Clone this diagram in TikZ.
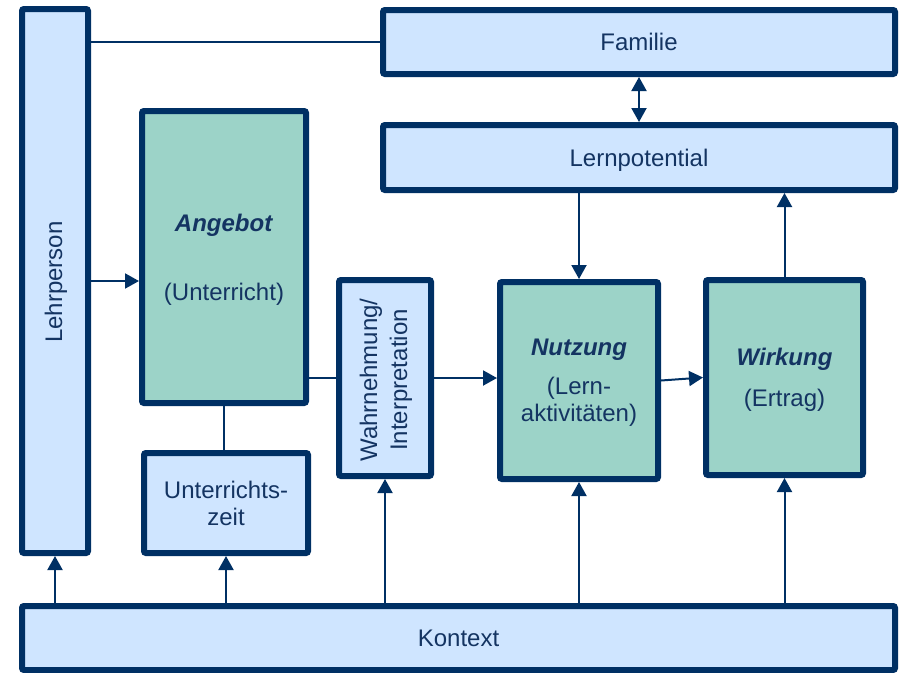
\documentclass[tikz,border=0pt]{standalone}
\usepackage{fontspec}
\setmainfont{Liberation Sans}
\usetikzlibrary{arrows.meta,calc}
\definecolor{navy}{RGB}{0,48,100}
\definecolor{txt}{RGB}{20,52,98}
\definecolor{lblue}{RGB}{207,229,255}
\definecolor{teal}{RGB}{156,211,200}
\begin{document}
\begin{tikzpicture}[x=1pt,y=-1pt,
  every node/.style={font=\fontsize{24}{27}\selectfont, text=txt, inner sep=0pt},
  box/.style={draw=navy, line width=6pt, fill=lblue, rounded corners=2pt, align=center},
  gbox/.style={box, fill=teal, text depth=0pt},
  conn/.style={draw=navy, line width=2pt},
  arr/.style={conn, -{Triangle[length=14pt,width=15pt]}},
  darr/.style={conn, {Triangle[length=14pt,width=15pt]}-{Triangle[length=14pt,width=15pt]}}
]
\useasboundingbox (0,0) rectangle (904,672);

% boxes (outer sizes minus line width)
\node[box, minimum width=66pt, minimum height=544pt] (lehr) at (55,281) {};
\node[rotate=90] (lehrtext) at (56,282) {Lehrperson};

\node[box, minimum width=512pt, minimum height=64pt] (familie) at (639,42) {Familie};
\node[box, text depth=0pt, minimum width=512pt, minimum height=65pt] (lernpot) at (639,157.5) {Lernpotential};

\node[gbox, minimum width=164pt, minimum height=292pt] (angebot) at (224,257)
  {\textbf{\textit{Angebot}}\\[42pt](Unterricht)};

\node[box, minimum width=164pt, minimum height=100pt] (uzeit) at (226,503)
  {Unterrichts-\\zeit};

\node[box, minimum width=92pt, minimum height=196pt] (wahr) at (385,378) {};
\node[rotate=90, align=center, font=\fontsize{24}{30}\selectfont] (wahrtext) at (386,380)
  {Wahrnehmung/\\Interpretation};

\node[gbox, minimum width=158pt, minimum height=197pt] (nutzung) at (579,380.5)
  {\textbf{\textit{Nutzung}}\\[12pt](Lern-\\aktivitäten)};

\node[gbox, minimum width=157pt, minimum height=195pt] (wirkung) at (784.5,377.5)
  {\textbf{\textit{Wirkung}}\\[14pt](Ertrag)};

\node[box, text depth=0pt, minimum width=873pt, minimum height=64pt] (kontext) at (458.5,638) {Kontext};

% connectors
\draw[conn] (lehr.east |- familie.west) -- (familie.west);
\draw[darr] (familie.south) -- (lernpot.north);
\draw[arr] (lernpot.south -| nutzung.north) -- (nutzung.north);
\draw[arr] (wirkung.north) -- (wirkung.north |- lernpot.south);
\draw[arr] (lehr.east) -- (lehr.east -| angebot.west);
\draw[conn] (wahr.west -| angebot.east) -- (wahr.west);
\draw[arr] (wahr.east) -- (wahr.east -| nutzung.west);
\draw[arr] (nutzung.east) -- (wirkung.west);
\draw[conn] (angebot.south) -- (angebot.south |- uzeit.north);

\draw[arr] (kontext.north -| lehr.south) -- (lehr.south);
\draw[arr] (kontext.north -| uzeit.south) -- (uzeit.south);
\draw[arr] (kontext.north -| wahr.south) -- (wahr.south);
\draw[arr] (kontext.north -| nutzung.south) -- (nutzung.south);
\draw[arr] (kontext.north -| wirkung.south) -- (wirkung.south);
\end{tikzpicture}
\end{document}
